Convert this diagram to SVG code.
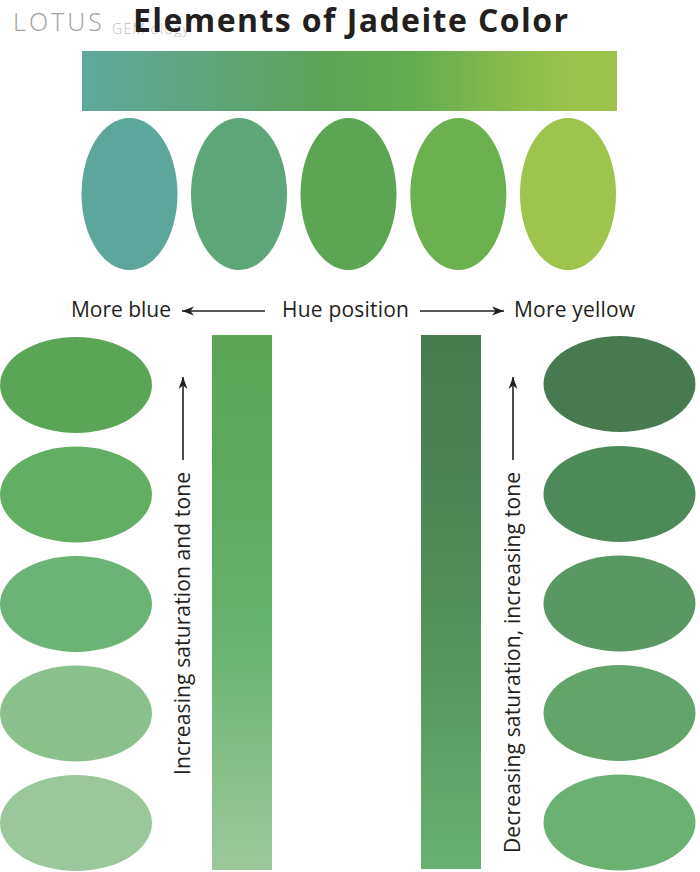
<svg xmlns="http://www.w3.org/2000/svg" width="700" height="872" viewBox="0 0 700 872">
<defs>
<linearGradient id="hueGrad" x1="0" y1="0" x2="1" y2="0">
<stop offset="0" stop-color="#5ea89d"/>
<stop offset="0.25" stop-color="#5fa47a"/>
<stop offset="0.45" stop-color="#5ca456"/>
<stop offset="0.62" stop-color="#62ad50"/>
<stop offset="0.8" stop-color="#88bb4e"/>
<stop offset="0.92" stop-color="#9dc34b"/>
<stop offset="1" stop-color="#9dc34b"/>
</linearGradient>
<linearGradient id="satGrad" x1="0" y1="0" x2="0" y2="1">
<stop offset="0" stop-color="#5ba555"/>
<stop offset="0.3" stop-color="#5eaa5e"/>
<stop offset="0.55" stop-color="#65b26c"/>
<stop offset="0.8" stop-color="#84bf87"/>
<stop offset="1" stop-color="#9bc99c"/>
</linearGradient>
<linearGradient id="toneGrad" x1="0" y1="0" x2="0" y2="1">
<stop offset="0" stop-color="#467a4f"/>
<stop offset="0.3" stop-color="#4c8656"/>
<stop offset="0.65" stop-color="#57985f"/>
<stop offset="1" stop-color="#67b171"/>
</linearGradient>
<marker id="arrow" markerUnits="userSpaceOnUse" markerWidth="13" markerHeight="10" refX="12" refY="5" orient="auto">
<path d="M0,0.5 L12,5 L0,9.5 L3.5,5 z" fill="#231f20"/>
</marker>
</defs>
<style>
.lbl{font-family:"Open Sans","Liberation Sans",sans-serif;font-size:21px;fill:#231f20}
.conn{stroke:#231f20;stroke-width:1.6;fill:none;marker-end:url(#arrow)}
</style>
<rect width="700" height="872" fill="#ffffff"/>

<g id="logo">
<text x="13" y="31" font-family="'Open Sans','Liberation Sans',sans-serif" font-weight="300" font-size="25" fill="#a0a0a0" textLength="89">LOTUS</text>
<text x="112" y="34" font-family="'Open Sans','Liberation Sans',sans-serif" font-weight="300" font-size="14" fill="#bdbdbd" textLength="77">GEM·ology</text>
</g>
<g id="title">
<text x="133" y="32" font-family="'Open Sans','Liberation Sans',sans-serif" font-weight="700" font-size="32" fill="#231f20" textLength="435">Elements of Jadeite Color</text>
</g>

<g id="hue-bar"><rect x="82" y="51" width="535" height="60" fill="url(#hueGrad)"/></g>

<g id="hue-ellipses">
<ellipse cx="129.5" cy="194" rx="48" ry="76" fill="#5ca69b"/>
<ellipse cx="239" cy="194" rx="48" ry="76" fill="#5fa57a"/>
<ellipse cx="348.5" cy="194" rx="48" ry="76" fill="#5ba553"/>
<ellipse cx="458.3" cy="194" rx="48" ry="76" fill="#6cb150"/>
<ellipse cx="568" cy="194" rx="48" ry="76" fill="#9ec44c"/>
</g>

<g id="hue-labels">
<text class="lbl" x="71" y="317" textLength="100">More blue</text>
<text class="lbl" x="282" y="317" textLength="127">Hue position</text>
<text class="lbl" x="514" y="317" textLength="121">More yellow</text>
</g>

<g id="sat-ellipses">
<ellipse cx="76" cy="385" rx="76" ry="48" fill="#5ba556"/>
<ellipse cx="76" cy="494.5" rx="76" ry="48" fill="#62ae62"/>
<ellipse cx="76" cy="604" rx="76" ry="48" fill="#6cb476"/>
<ellipse cx="76" cy="713.5" rx="76" ry="48" fill="#89c08c"/>
<ellipse cx="76" cy="823" rx="76" ry="48" fill="#9ac89c"/>
</g>

<g id="sat-bar"><rect x="212" y="335" width="60" height="535" fill="url(#satGrad)"/></g>
<g id="tone-bar"><rect x="421" y="335" width="60" height="534" fill="url(#toneGrad)"/></g>

<g id="tone-ellipses">
<ellipse cx="619.5" cy="384" rx="76" ry="48" fill="#477a51"/>
<ellipse cx="619.5" cy="494" rx="76" ry="48" fill="#4d8a5a"/>
<ellipse cx="619.5" cy="603.5" rx="76" ry="48" fill="#599862"/>
<ellipse cx="619.5" cy="713" rx="76" ry="48" fill="#62a469"/>
<ellipse cx="619.5" cy="822.5" rx="76" ry="48" fill="#6bb272"/>
</g>

<g id="vertical-labels">
<text class="lbl" transform="translate(190,775) rotate(-90)" x="0" y="0" textLength="303">Increasing saturation and tone</text>
<text class="lbl" transform="translate(520,853) rotate(-90)" x="0" y="0" textLength="381">Decreasing saturation, increasing tone</text>
</g>

<g id="connectors">
<line class="conn" x1="265" y1="311" x2="182" y2="311"/>
<line class="conn" x1="420" y1="311" x2="504" y2="311"/>
<line class="conn" x1="183" y1="460" x2="183" y2="377"/>
<line class="conn" x1="513" y1="460" x2="513" y2="377"/>
</g>
</svg>
